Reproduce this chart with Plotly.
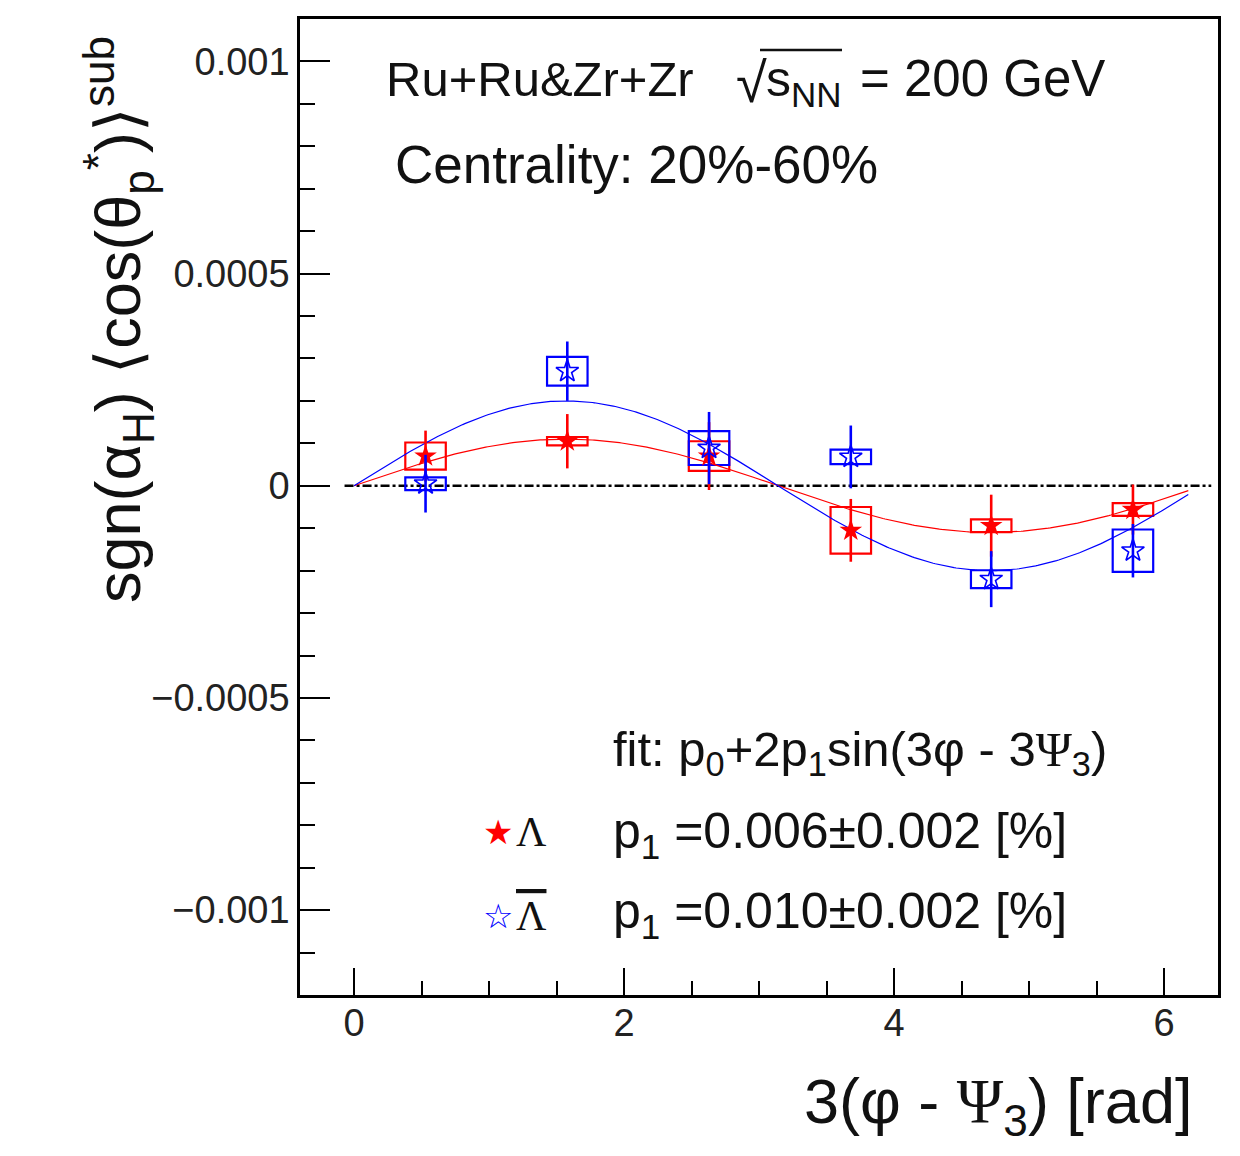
import numpy as np
import plotly.graph_objects as go

# ---------------- data ----------------
phi_bins = [0.53, 1.58, 2.63, 3.68, 4.72, 5.77]

lam_val = [7.0e-5, 1.05e-4, 7.0e-5, -1.05e-4, -9.4e-5, -5.6e-5]
lam_stat = [6.0e-5, 6.4e-5, 8.0e-5, 7.4e-5, 7.3e-5, 5.9e-5]
lam_sys = [3.2e-5, 1.0e-5, 3.5e-5, 5.5e-5, 1.5e-5, 1.5e-5]

alam_val = [5e-6, 2.70e-4, 8.9e-5, 6.8e-5, -2.2e-4, -1.53e-4]
alam_stat = [6.8e-5, 7.0e-5, 8.5e-5, 7.4e-5, 6.6e-5, 6.3e-5]
alam_sys = [1.5e-5, 3.4e-5, 4.0e-5, 1.7e-5, 2.1e-5, 5.0e-5]

lam_fit = {"p0": 0.0, "p1": 5.5e-5}
alam_fit = {"p0": 0.0, "p1": 1.0e-4}
fit_range = [0.0, 6.18]

x_tick_vals = [0, 2, 4, 6]
x_tick_text = ["0", "2", "4", "6"]
y_tick_vals = [-0.001, -0.0005, 0, 0.0005, 0.001]
y_tick_text = ["\u22120.001", "\u22120.0005", "0", "0.0005", "0.001"]

# ---------------- styling ----------------
# page body has an 8px margin, so the figure is made 8px smaller
W, H = 1232, 1148
ML, MR, MT, MB = 292, 22, 8, 161
# plot frame in reference-picture pixels
FL, FR, FT, FB = 300, 1218, 16, 995
RED, BLUE = "#ff0000", "#0000ff"
SANS = "Liberation Sans, Arial, Helvetica, sans-serif"
SERIF = "Liberation Serif, Times New Roman, serif"
BOX_W = 0.3


def px_x(p):
    return (p - FL) / (FR - FL)


def px_y(p):
    return (FB - p) / (FB - FT)


fig = go.Figure()

# systematic boxes
for vals, syss, col, nm in [(lam_val, lam_sys, RED, "\u039b sys"),
                            (alam_val, alam_sys, BLUE, "anti-\u039b sys")]:
    base = [v - s for v, s in zip(vals, syss)]
    hgt = [2 * s for s in syss]
    fig.add_trace(go.Bar(
        x=phi_bins, y=hgt, base=base, width=BOX_W, name=nm,
        marker=dict(color="rgba(0,0,0,0)", line=dict(color=col, width=2.2)),
        showlegend=False, hoverinfo="skip"))

# fit curves
for fit, col, nm in [(lam_fit, RED, "\u039b fit"), (alam_fit, BLUE, "anti-\u039b fit")]:
    xf = np.linspace(fit_range[0], fit_range[1], 400)
    yf = fit["p0"] + 2 * fit["p1"] * np.sin(xf)
    fig.add_trace(go.Scatter(x=xf, y=yf, mode="lines", name=nm,
                             line=dict(color=col, width=1.2), showlegend=False))

# data points with stat errors
fig.add_trace(go.Scatter(
    x=phi_bins, y=lam_val, mode="markers", name="\u039b",
    marker=dict(symbol="star", size=17, color=RED, line=dict(width=0)),
    error_y=dict(type="data", array=lam_stat, color=RED, thickness=2.6, width=0),
    showlegend=False))
fig.add_trace(go.Scatter(
    x=phi_bins, y=alam_val, mode="markers", name="anti-\u039b",
    marker=dict(symbol="star-open", size=17, color=BLUE, line=dict(width=1.6, color=BLUE)),
    error_y=dict(type="data", array=alam_stat, color=BLUE, thickness=2.6, width=0),
    showlegend=False))

# zero line
fig.add_shape(type="line", xref="x", yref="y", x0=-0.07, x1=6.35, y0=0, y1=0,
              line=dict(color="black", width=2.5, dash="dashdot"), layer="below")

axis_common = dict(
    showline=True, linewidth=2.5, linecolor="black", mirror=True,
    ticks="inside", tickwidth=2, tickcolor="black",
    showgrid=False, zeroline=False,
    tickfont=dict(family=SANS, size=38, color="#222"),
)

fig.update_xaxes(range=[-0.4, 6.4], tickvals=x_tick_vals, ticktext=x_tick_text,
                 ticklen=27, ticklabelstandoff=-7,
                 minor=dict(dtick=0.5, tick0=0, ticks="inside", ticklen=14,
                            tickwidth=2, tickcolor="black", showgrid=False),
                 **axis_common)
fig.update_yaxes(range=[-0.0012, 0.0011], tickvals=y_tick_vals, ticktext=y_tick_text,
                 ticklen=30, ticklabelstandoff=0,
                 minor=dict(dtick=0.0001, tick0=0, ticks="inside", ticklen=15,
                            tickwidth=2, tickcolor="black", showgrid=False),
                 **axis_common)

ann = []


def txt(text, x, y, size, xanchor="left", family=SANS, color="#111", **kw):
    ann.append(dict(text=text, xref="paper", yref="paper", x=px_x(x), y=px_y(y),
                    xanchor=xanchor, yanchor="middle", showarrow=False,
                    font=dict(family=family, size=size, color=color), **kw))


# axis titles
txt("sgn(\u03b1<sub>H</sub>) \u27e8cos(\u03b8<sub>p</sub><sup>*</sup>)\u27e9<sup>sub</sup>",
    118, 318, 63, xanchor="center", textangle=-90)
txt("3(\u03c6 - <span style='font-family:Liberation Serif'>\u03a8</span><sub>3</sub>) [rad]",
    1194, 1106, 63, xanchor="right")

# header texts
txt("Ru+Ru&amp;Zr+Zr", 384, 76, 49)
txt("\u221a", 734, 80, 56)
txt("s<sub>NN</sub>", 764, 80, 50)
txt("= 200 GeV", 858, 76, 51)
fig.add_shape(type="line", xref="paper", yref="paper",
              x0=px_x(760), x1=px_x(842), y0=px_y(47), y1=px_y(47),
              line=dict(color="#111", width=2.5))
txt("Centrality: 20%-60%", 393, 162, 53)

# fit texts
txt("fit: p<sub>0</sub>+2p<sub>1</sub>sin(3\u03c6 - 3<span style='font-family:Liberation Serif'>\u03a8</span><sub>3</sub>)",
    611, 752, 49)
txt("p<sub>1</sub> =0.006\u00b10.002 [%]", 611, 834, 50)
txt("p<sub>1</sub> =0.010\u00b10.002 [%]", 611, 914, 50)

# legend entries
txt("\u2605", 498, 831, 34, xanchor="center", family="DejaVu Sans", color=RED)
txt("\u039b", 514, 831, 42, family=SERIF)
txt("\u2606", 498, 916, 34, xanchor="center", family="DejaVu Sans", color=BLUE)
txt("<span style='text-decoration:overline'>\u039b</span>", 514, 916, 42, family=SERIF)

fig.update_layout(
    width=W, height=H,
    margin=dict(l=ML, r=MR, t=MT, b=MB, pad=0),
    paper_bgcolor="white", plot_bgcolor="white",
    barmode="overlay", showlegend=False,
    annotations=ann,
    font=dict(family=SANS),
)

fig.write_html("out.html")
